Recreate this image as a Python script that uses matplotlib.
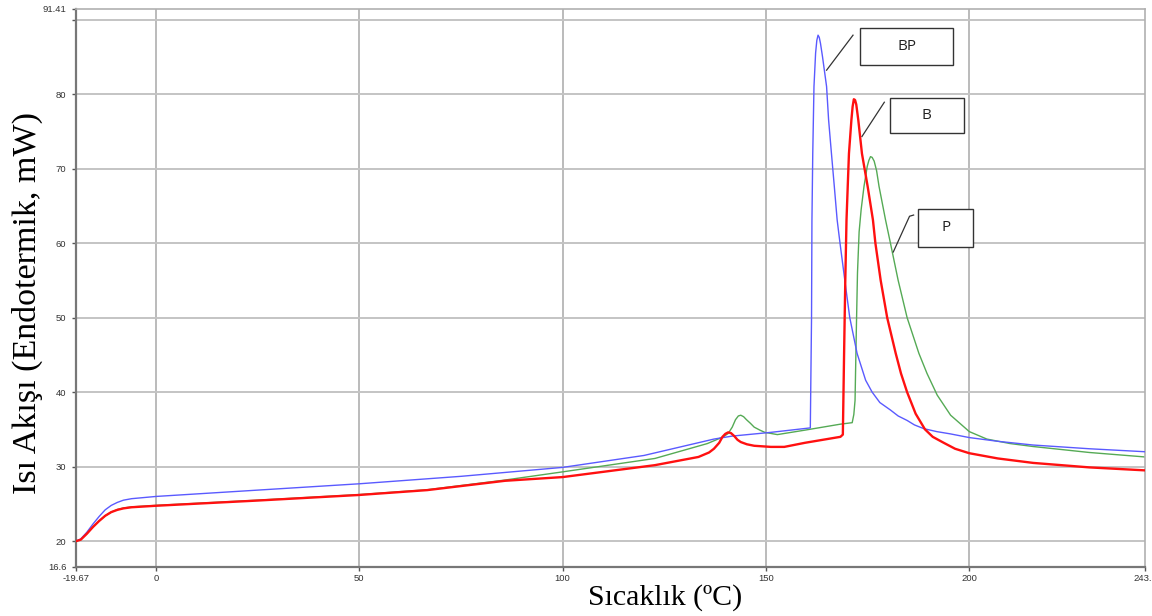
import matplotlib
matplotlib.use("Agg")
import matplotlib.pyplot as plt
from matplotlib.patches import Rectangle

# ---- data ----
bp_x = [-19.67, -18.5, -17, -15.5, -14, -12.5, -11, -9.5, -8, -6, -3, 0, 25, 50, 75, 100, 120,
        137.2, 141.7, 151.2,
        160.9, 161.2, 161.3, 161.5, 161.8, 162.2, 162.5, 162.8, 163.1, 163.4, 163.9, 164.9, 165.4,
        166.1, 166.8, 167.5, 168.2, 169.6, 170.6, 172.4, 174.5, 176.1, 178.0, 180.6, 182.5,
        184.7, 186.5, 188.8, 192.0, 195.3, 200.0, 207.0, 215.7, 229.5, 243.2]
bp_y = [20.0, 20.3, 21.2, 22.3, 23.3, 24.2, 24.8, 25.2, 25.5, 25.7, 25.85, 26.0, 26.85, 27.7, 28.7,
        29.9, 31.5, 33.7, 34.1, 34.6,
        35.2, 50.0, 63.0, 72.0, 81.0, 85.5, 87.2, 87.9, 87.6, 86.8, 85.0, 81.0, 76.5,
        72.0, 67.6, 63.1, 60.0, 54.1, 50.0, 45.2, 41.6, 40.0, 38.6, 37.6, 36.8,
        36.2, 35.6, 35.1, 34.7, 34.4, 33.9, 33.4, 32.9, 32.4, 32.0]

b_x = [-19.67, -18.5, -17, -15.5, -14, -12.5, -11, -9.5, -8, -6, -3, 0, 25, 50, 66.7, 85.8, 100,
       122.7, 133.4, 136.0, 137.2, 138.5, 139.3, 140.0, 140.7, 141.4, 142.2, 143.0, 143.8, 145.3,
       147.1, 151.2, 154.5, 159.6, 168.3, 168.9, 169.2, 169.5, 169.8, 170.1, 170.4, 171.0, 171.3,
       171.6, 171.9, 172.2, 172.7, 173.6, 175.0, 176.3, 176.9, 178.2, 179.8, 181.9, 183.2, 184.7,
       186.8, 189.1, 191.0, 193.7, 196.5, 200.0, 207.0, 215.7, 229.5, 243.2]
b_y = [20.0, 20.2, 21.0, 21.9, 22.7, 23.4, 23.9, 24.2, 24.4, 24.55, 24.65, 24.75, 25.45, 26.2,
       26.85, 28.1, 28.6,
       30.2, 31.3, 31.9, 32.4, 33.2, 34.0, 34.4, 34.6, 34.5, 34.1, 33.6, 33.3, 33.0,
       32.8, 32.65, 32.65, 33.2, 34.0, 34.3, 45.0, 55.0, 63.1, 67.6, 72.0, 76.5, 78.3,
       79.3, 79.2, 78.6, 76.5, 72.0, 67.6, 63.1, 60.0, 55.0, 50.0, 45.2, 42.5, 40.0,
       37.1, 35.0, 34.0, 33.2, 32.4, 31.8, 31.1, 30.5, 29.9, 29.5]

p_x = [-19.67, -18.5, -17, -15.5, -14, -12.5, -11, -9.5, -8, -6, -3, 0, 25, 50, 66.7, 85.8, 100,
       122.7, 135.6, 139.5, 140.7, 141.7, 142.5, 143.2, 143.8, 144.5, 145.2, 146.2, 147.1, 148.5,
       149.7, 152.8, 159.6, 168.3, 171.2, 171.6, 171.9, 172.2, 172.5, 172.9, 173.4, 174.1, 174.9,
       175.3, 175.7, 176.1, 176.6, 177.2, 177.8, 179.4, 180.6, 182.5, 184.7, 187.6, 189.6, 192.1,
       195.4, 200.0, 204.3, 210.0, 215.7, 229.5, 243.2]
p_y = [20.0, 20.2, 21.0, 21.9, 22.7, 23.4, 23.9, 24.25, 24.45, 24.6, 24.7, 24.8, 25.5, 26.25,
       26.9, 28.2, 29.3,
       31.1, 33.1, 34.0, 34.45, 35.3, 36.3, 36.8, 36.9, 36.7, 36.3, 35.8, 35.3, 34.9,
       34.6, 34.3, 34.9, 35.7, 35.9, 37.0, 38.9, 47.9, 56.0, 61.5, 64.5, 67.6, 70.3,
       71.1, 71.6, 71.5, 71.0, 69.7, 67.6, 63.1, 60.0, 55.0, 50.0, 45.2, 42.5, 39.6,
       36.9, 34.7, 33.7, 33.1, 32.7, 31.9, 31.3]

series_names = ["BP", "B", "P"]

x_min, x_max = -19.67, 243.2
y_min, y_max = 16.6, 91.41
x_ticks = [-19.67, 0, 50, 100, 150, 200, 243.2]
x_tick_labels = ["-19.67", "0", "50", "100", "150", "200", "243.2"]
y_ticks = [16.6, 20, 30, 40, 50, 60, 70, 80, 90, 91.41]
y_tick_labels = ["16.6", "20", "30", "40", "50", "60", "70", "80", "", "91.41"]

# ---- figure ----
W, H = 1152, 616
fig = plt.figure(figsize=(W / 100, H / 100), dpi=100)
ax = fig.add_axes([76/W, 1-566.5/H, (1145-76)/W, (566.5-9)/H])

# grid
for gx in [0, 50, 100, 150, 200]:
    ax.axvline(gx, color="#a8a8a8", lw=1.1, zorder=0)
for gy in [20, 30, 40, 50, 60, 70, 80, 90]:
    ax.axhline(gy, color="#c4c4c4", lw=1.4, zorder=0)

ax.plot(p_x, p_y, color="#55aa55", lw=1.0, zorder=2)
ax.plot(bp_x, bp_y, color="#5a5aff", lw=1.0, zorder=3)
ax.plot(b_x, b_y, color="#ff1010", lw=1.7, zorder=4)

ax.set_xlim(x_min, x_max)
ax.set_ylim(y_min, y_max)
ax.set_xticks(x_ticks)
ax.set_xticklabels(x_tick_labels)
ax.set_yticks(y_ticks)
ax.set_yticklabels(y_tick_labels)
ax.tick_params(axis="both", labelsize=6.8, labelcolor="#333333", color="#555555",
               length=3, width=1, direction="out")
ax.tick_params(axis="x", pad=2.5)
ax.tick_params(axis="y", pad=4)
for lab in ax.get_xticklabels() + ax.get_yticklabels():
    lab.set_family("Liberation Sans")

for side in ["left", "bottom"]:
    ax.spines[side].set_color("#777777")
    ax.spines[side].set_linewidth(1.6)
for side in ["top", "right"]:
    ax.spines[side].set_color("#b0b0b0")
    ax.spines[side].set_linewidth(1.2)

# axis titles placed as in the reference
fig.text(665/W, 1-598/H, "Sıcaklık (ºC)", fontsize=21.5, family="Liberation Serif",
         ha="center", va="center")
fig.text(27/W, 1-303/H, "Isı Akışı (Endotermik, mW)", fontsize=24.5,
         family="Liberation Serif", ha="center", va="center", rotation=90)

# annotation boxes with leader lines
boxes = {
    "BP": (173.2, 83.89, 196.1, 88.82),
    "B": (180.4, 74.72, 198.6, 79.42),
    "P": (187.5, 59.50, 201.0, 64.56),
}
leaders = {
    "BP": ([171.4, 164.9], [87.9, 83.2]),
    "B": ([179.1, 173.6], [78.9, 74.3]),
    "P": ([186.3, 185.3, 181.3], [63.76, 63.6, 58.8]),
}
for name in series_names:
    x0, y0, x1, y1 = boxes[name]
    ax.add_patch(Rectangle((x0, y0), x1 - x0, y1 - y0, facecolor="white",
                           edgecolor="#333333", lw=1.0, zorder=5))
    ax.text((x0 + x1) / 2, (y0 + y1) / 2, name, ha="center", va="center",
            fontsize=11, family="Open Sans", color="#222222", zorder=6)
    lx, ly = leaders[name]
    ax.plot(lx, ly, color="#333333", lw=0.9, zorder=5)

fig.savefig("out.png", dpi=100)
